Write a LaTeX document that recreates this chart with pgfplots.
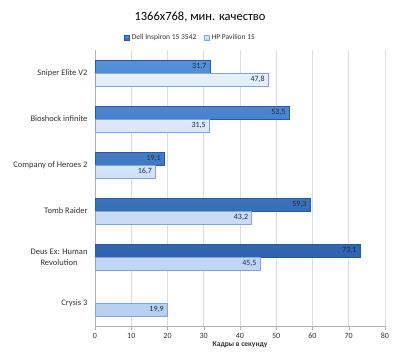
\documentclass[border=0pt]{standalone}
\usepackage{fontspec}
\setmainfont{Carlito}
\usepackage{pgfplots}
\pgfplotsset{compat=1.18}
\definecolor{dtop}{HTML}{5590D8}
\definecolor{dbot}{HTML}{2E64AE}
\definecolor{ddraw}{HTML}{2A5A9C}
\definecolor{ltop}{HTML}{E6EFFC}
\definecolor{lbot}{HTML}{B6CEF0}
\definecolor{ldraw}{HTML}{7EA6DC}
\definecolor{txt}{HTML}{333333}
\definecolor{lbl}{HTML}{1C2B45}
\definecolor{gridc}{HTML}{DDDDDD}
\begin{document}
\begin{tikzpicture}
\path (0,0) rectangle (402bp,355bp);
\node[font=\fontsize{12.5bp}{14bp}\selectfont, text=black] at (200bp,338bp) {1366x768, мин. качество};
\begin{axis}[
  at={(95bp,29bp)}, anchor=south west,
  scale only axis, width=290bp, height=276bp,
  xbar, bar width=12.5bp,
  xmin=0, xmax=80, ymin=-0.5, ymax=5.5,
  y dir=reverse,
  xtick={0,10,...,80},
  ytick={0,1,2,3,4,5},
  yticklabels={Sniper Elite V2, Bioshock infinite, Company of Heroes 2, Tomb Raider, {Deus Ex: Human\\Revolution}, Crysis 3},
  yticklabel style={align=center, font=\fontsize{8.5bp}{11bp}\selectfont, text=txt},
  xticklabel style={font=\fontsize{8bp}{10bp}\selectfont, text=txt},
  /pgf/number format/assume math mode=true,
  major y tick style={draw=none},
  extra y ticks={-0.5,0.5,1.5,2.5,3.5,4.5,5.5},
  extra y tick labels={},
  extra y tick style={major tick length=4bp, tick align=outside, tick style={draw=gridc!80!black, thin}, grid=none},
  xmajorgrids, grid style={gridc, line width=0.8pt},
  x tick style={draw=gridc!80!black, thin},
  major tick length=4bp, tick align=outside,
  axis line style={draw=gridc!80!black},
  axis x line*=bottom, axis y line*=left,
  xlabel={\textbf{Кадры в секунду}},
  xlabel style={font=\fontsize{7.5bp}{9bp}\selectfont, text=txt, yshift=4bp},
  nodes near coords,
  nodes near coords style={anchor=east, font=\fontsize{8bp}{10bp}\selectfont, text=lbl, /pgf/number format/.cd, fixed, fixed zerofill, precision=1, use comma, assume math mode=true},
  legend columns=2,
  legend style={at={(0.33,1.043)}, anchor=center, draw=none, fill=none, font=\fontsize{7.5bp}{9bp}\selectfont, text=txt, /tikz/every even column/.append style={column sep=6bp}},
  legend image code/.code={\draw[#1] (0bp,-2.5bp) rectangle (5bp,2.5bp);},
]
\addplot[bar shift=6.5bp, top color=dtop, bottom color=dbot, draw=ddraw] coordinates {(31.7,0) (53.5,1) (19.1,2) (59.3,3) (73.1,4)};
\addplot[bar shift=-6.5bp, top color=ltop, bottom color=lbot, draw=ldraw] coordinates {(47.8,0) (31.5,1) (16.7,2) (43.2,3) (45.5,4) (19.9,5)};
\legend{Dell Inspiron 15 3542, HP Pavilion 15}
\end{axis}
\end{tikzpicture}
\end{document}
